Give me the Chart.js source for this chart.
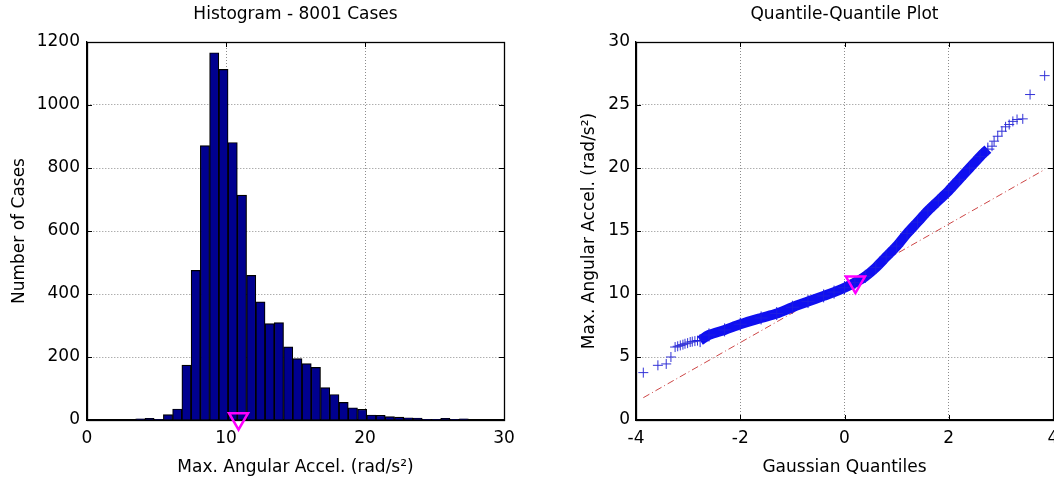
<!DOCTYPE html>
<html>
<head>
<meta charset="utf-8">
<script src="https://cdn.jsdelivr.net/npm/chart.js@4/dist/chart.umd.min.js"></script>
<style>
  body { margin: 0; background: #fff; }
  #hist { position: absolute; left: 0; top: 0; }
  #qq { position: absolute; left: 527px; top: 0; }
</style>
</head>
<body>
<canvas id="hist" width="527" height="481"></canvas>
<canvas id="qq" width="527" height="481"></canvas>
<script>
// histogram bins
const histBinStart = 3.5;
const histBinWidth = 0.665;
const histCounts = [4, 5, 1, 17, 35, 174, 475, 871, 1166, 1113, 881, 714, 459, 375, 306, 309, 232, 195,
  179, 167, 103, 81, 56, 39, 34, 16, 15, 11, 9, 7, 6, 2, 2, 5, 1, 4];
const histXTicks = [0, 10, 20, 30];
const histYTicks = [0, 200, 400, 600, 800, 1000, 1200];
const histMeanX = 10.9;
const histMeanY = 4;

// quantile-quantile plot
const qqBandX = [-2.77, -2.6, -2.3, -2.0, -1.6, -1.3, -1.0, -0.7, -0.4, -0.2, 0.0, 0.2, 0.4, 0.6, 0.8,
  1.0, 1.2, 1.4, 1.6, 1.8, 2.0, 2.2, 2.4, 2.6, 2.75];
const qqBandY = [6.3, 6.75, 7.15, 7.6, 8.1, 8.45, 8.95, 9.4, 9.85, 10.15, 10.5, 10.9, 11.4, 12.1, 12.95,
  13.8, 14.8, 15.7, 16.6, 17.4, 18.2, 19.1, 20.0, 20.9, 21.5];
const qqTailX = [-3.86, -3.58, -3.42, -3.33, -3.25, -3.2, -3.15, -3.1, -3.06, -3.01, -2.96, -2.92, -2.87, -2.82,
  2.83, 2.87, 2.94, 3.02, 3.09, 3.16, 3.23, 3.31, 3.42, 3.56, 3.84];
const qqTailY = [3.76, 4.34, 4.45, 5.0, 5.79, 5.85, 5.92, 5.98, 6.05, 6.1, 6.19, 6.22, 6.26, 6.3,
  21.73, 22.13, 22.52, 22.92, 23.27, 23.45, 23.7, 23.85, 23.9, 25.83, 27.33];
const qqRefX = [-3.86, 3.82];
const qqRefY = [1.77, 19.83];
const qqXTicks = [-4, -2, 0, 2, 4];
const qqYTicks = [0, 5, 10, 15, 20, 25, 30];
const qqMeanX = 0.21;
const qqMeanY = 10.95;

Chart.defaults.font.family = "'DejaVu Sans', sans-serif";
Chart.defaults.font.size = 17;
Chart.defaults.color = '#000';

const toPoints = (xs, ys) => xs.map((x, i) => ({x: x, y: ys[i]}));

// black box round the plot with inward tick marks
const axisBox = {
  id: 'axisBox',
  beforeDatasetsDraw(chart) {
    const {ctx, chartArea: a, scales: {x, y}} = chart;
    ctx.save();
    ctx.strokeStyle = '#000';
    ctx.lineWidth = 1;
    ctx.beginPath();
    x.ticks.forEach(t => {
      const px = Math.round(x.getPixelForValue(t.value)) + 0.5;
      ctx.moveTo(px, a.bottom); ctx.lineTo(px, a.bottom - 5);
      ctx.moveTo(px, a.top); ctx.lineTo(px, a.top + 5);
    });
    y.ticks.forEach(t => {
      const py = Math.round(y.getPixelForValue(t.value)) + 0.5;
      ctx.moveTo(a.left, py); ctx.lineTo(a.left + 5, py);
      ctx.moveTo(a.right, py); ctx.lineTo(a.right - 5, py);
    });
    ctx.stroke();
    ctx.lineWidth = 1.3;
    ctx.strokeRect(Math.round(a.left) + 0.5, Math.round(a.top) + 0.5,
      Math.round(a.right - a.left), Math.round(a.bottom - a.top));
    ctx.restore();
  }
};

function axis(ticks, min, max, size, isX, title, titlePad, labelPad) {
  return {
    type: 'linear',
    min: min,
    max: max,
    offset: false,
    grid: { color: '#8c8c8c', lineWidth: 1, drawTicks: false, offset: false },
    border: { color: '#000', width: 1.3, dash: [1, 2] },
    ticks: {
      padding: labelPad,
      maxRotation: 0,
      autoSkip: false,
      font: { size: 17 },
      callback: v => String(v)
    },
    title: { display: true, text: title, font: { size: 17 }, padding: titlePad },
    afterBuildTicks: s => { s.ticks = ticks.map(v => ({value: v})); },
    afterFit: s => {
      if (isX) { s.height = size; s.paddingLeft = 0; s.paddingRight = 0; }
      else { s.width = size; s.paddingTop = 0; s.paddingBottom = 0; }
    }
  };
}

function plotTitle(text) {
  return {
    display: true,
    text: text,
    fullSize: false,
    font: { size: 17, weight: 'normal' },
    padding: { top: 4, bottom: 17.6 }
  };
}

function meanMarker(x, y) {
  return {
    type: 'scatter',
    data: [{x: x, y: y}],
    pointStyle: 'triangle',
    pointRotation: 180,
    pointRadius: 11,
    pointBorderColor: '#ff00ff',
    pointBorderWidth: 2.5,
    pointBackgroundColor: 'rgba(0,0,0,0)',
    clip: false
  };
}

new Chart(document.getElementById('hist'), {
  type: 'bar',
  data: {
    datasets: [
      meanMarker(histMeanX, histMeanY),
      {
        data: histCounts.map((c, i) => ({x: histBinStart + histBinWidth * (i + 0.5), y: c})),
        backgroundColor: '#00008f',
        borderColor: '#000',
        borderWidth: 1.2,
        barPercentage: 1,
        categoryPercentage: 1
      }
    ]
  },
  options: {
    responsive: false,
    animation: false,
    layout: { autoPadding: false, padding: { right: 23 } },
    plugins: {
      legend: { display: false },
      tooltip: { enabled: false },
      title: plotTitle('Histogram - 8001 Cases')
    },
    scales: {
      x: axis(histXTicks, 0, 30, 61, true, 'Max. Angular Accel. (rad/s²)', { top: 0, bottom: 3 }, 8),
      y: axis(histYTicks, 0, 1200, 87, false, 'Number of Cases', { top: 9, bottom: 0 }, 7)
    }
  },
  plugins: [axisBox]
});

new Chart(document.getElementById('qq'), {
  type: 'scatter',
  data: {
    datasets: [
      meanMarker(qqMeanX, qqMeanY),
      {
        data: toPoints(qqBandX, qqBandY),
        showLine: true,
        tension: 0.3,
        borderColor: 'rgb(15,15,240)',
        borderWidth: 10,
        pointStyle: 'cross',
        pointRadius: 6.5,
        pointBorderColor: 'rgb(30,30,225)',
        pointBorderWidth: 1
      },
      {
        data: toPoints(qqTailX, qqTailY),
        pointStyle: 'cross',
        pointRadius: 5,
        pointBorderColor: 'rgb(50,50,215)',
        pointBorderWidth: 1
      },
      {
        data: toPoints(qqRefX, qqRefY),
        showLine: true,
        borderColor: 'rgb(205,70,70)',
        borderWidth: 1,
        borderDash: [7, 3, 1, 3],
        pointRadius: 0
      }
    ]
  },
  options: {
    responsive: false,
    animation: false,
    layout: { autoPadding: false, padding: { right: 1 } },
    plugins: {
      legend: { display: false },
      tooltip: { enabled: false },
      title: plotTitle('Quantile-Quantile Plot')
    },
    scales: {
      x: axis(qqXTicks, -4, 4, 61, true, 'Gaussian Quantiles', { top: 0, bottom: 3 }, 8),
      y: axis(qqYTicks, 0, 30, 109, false, 'Max. Angular Accel. (rad/s²)', { top: 52.8, bottom: 0 }, 6)
    }
  },
  plugins: [axisBox]
});
</script>
</body>
</html>
